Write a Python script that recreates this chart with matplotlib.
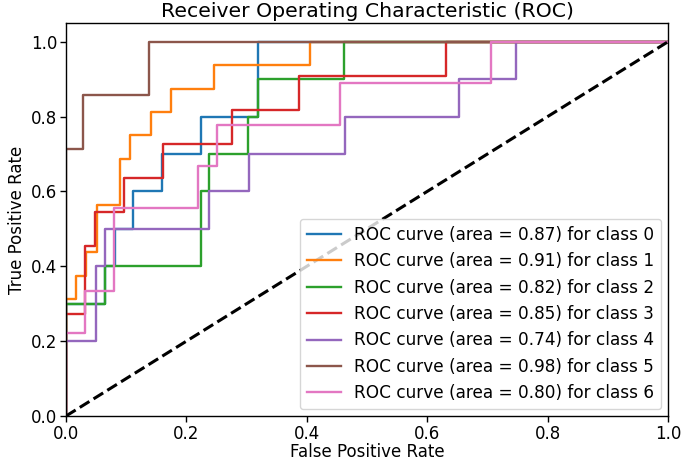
import matplotlib
matplotlib.use("Agg")
import matplotlib.pyplot as plt

classes = [0, 1, 2, 3, 4, 5, 6]
aucs = [0.87, 0.91, 0.82, 0.85, 0.74, 0.98, 0.80]

fpr0 = [0, 0, 0.065, 0.065, 0.081, 0.081, 0.112, 0.112, 0.159, 0.159, 0.224, 0.224, 0.319, 0.319, 1]
tpr0 = [0, 0.3, 0.3, 0.4, 0.4, 0.5, 0.5, 0.6, 0.6, 0.7, 0.7, 0.8, 0.8, 1.0, 1.0]

fpr1 = [0, 0, 0.0166, 0.0166, 0.033, 0.033, 0.051, 0.051, 0.089, 0.089, 0.106, 0.106,
        0.141, 0.141, 0.174, 0.174, 0.246, 0.246, 0.405, 0.405, 1]
tpr1 = [0, 0.3125, 0.3125, 0.375, 0.375, 0.4375, 0.4375, 0.5625, 0.5625, 0.6875, 0.6875, 0.75,
        0.75, 0.8125, 0.8125, 0.875, 0.875, 0.9375, 0.9375, 1.0, 1.0]

fpr2 = [0, 0, 0.065, 0.065, 0.224, 0.224, 0.238, 0.238, 0.303, 0.303, 0.319, 0.319, 0.462, 0.462, 1]
tpr2 = [0, 0.3, 0.3, 0.4, 0.4, 0.6, 0.6, 0.7, 0.7, 0.8, 0.8, 0.9, 0.9, 1.0, 1.0]

fpr3 = [0, 0, 0.0316, 0.0316, 0.048, 0.048, 0.096, 0.096, 0.161, 0.161, 0.275, 0.275,
        0.387, 0.387, 0.631, 0.631, 1]
tpr3 = [0, 0.2727, 0.2727, 0.4545, 0.4545, 0.5455, 0.5455, 0.6364, 0.6364, 0.7273, 0.7273,
        0.8182, 0.8182, 0.9091, 0.9091, 1.0, 1.0]

fpr4 = [0, 0, 0.049, 0.049, 0.064, 0.064, 0.238, 0.238, 0.304, 0.304, 0.463, 0.463,
        0.653, 0.653, 0.748, 0.748, 1]
tpr4 = [0, 0.2, 0.2, 0.4, 0.4, 0.5, 0.5, 0.6, 0.6, 0.7, 0.7, 0.8, 0.8, 0.9, 0.9, 1.0, 1.0]

fpr5 = [0, 0, 0.029, 0.029, 0.137, 0.137, 1]
tpr5 = [0, 0.7143, 0.7143, 0.8571, 0.8571, 1.0, 1.0]

fpr6 = [0, 0, 0.0316, 0.0316, 0.080, 0.080, 0.219, 0.219, 0.250, 0.250, 0.455, 0.455, 0.706, 0.706, 1]
tpr6 = [0, 0.2222, 0.2222, 0.3333, 0.3333, 0.5556, 0.5556, 0.6667, 0.6667, 0.7778, 0.7778,
        0.8889, 0.8889, 1.0, 1.0]

fprs = [fpr0, fpr1, fpr2, fpr3, fpr4, fpr5, fpr6]
tprs = [tpr0, tpr1, tpr2, tpr3, tpr4, tpr5, tpr6]

fs = 12.0
fig = plt.figure(figsize=(6.85, 4.62), dpi=100)
ax = fig.add_axes([0.0964, 0.0996, 0.8788, 0.8506])
for c, f, t, a in zip(classes, fprs, tprs, aucs):
    ax.plot(f, t, lw=1.7, label=f"ROC curve (area = {a:0.2f}) for class {c}")
ax.plot([0, 1], [0, 1], 'k--', lw=2.2)
ax.set_xlim(0.0, 1.0)
ax.set_ylim(0.0, 1.05)
ax.tick_params(labelsize=fs, width=1.0, length=4, pad=2.5)
for s in ax.spines.values():
    s.set_linewidth(1.0)
ax.set_xlabel("False Positive Rate", fontsize=fs, labelpad=0)
ax.set_ylabel("True Positive Rate", fontsize=fs, labelpad=3)
ax.set_title("Receiver Operating Characteristic (ROC)", fontsize=14.7, pad=4)
ax.legend(loc="lower right", fontsize=12.2, borderaxespad=0.4)
fig.savefig("out.png", dpi=100)
